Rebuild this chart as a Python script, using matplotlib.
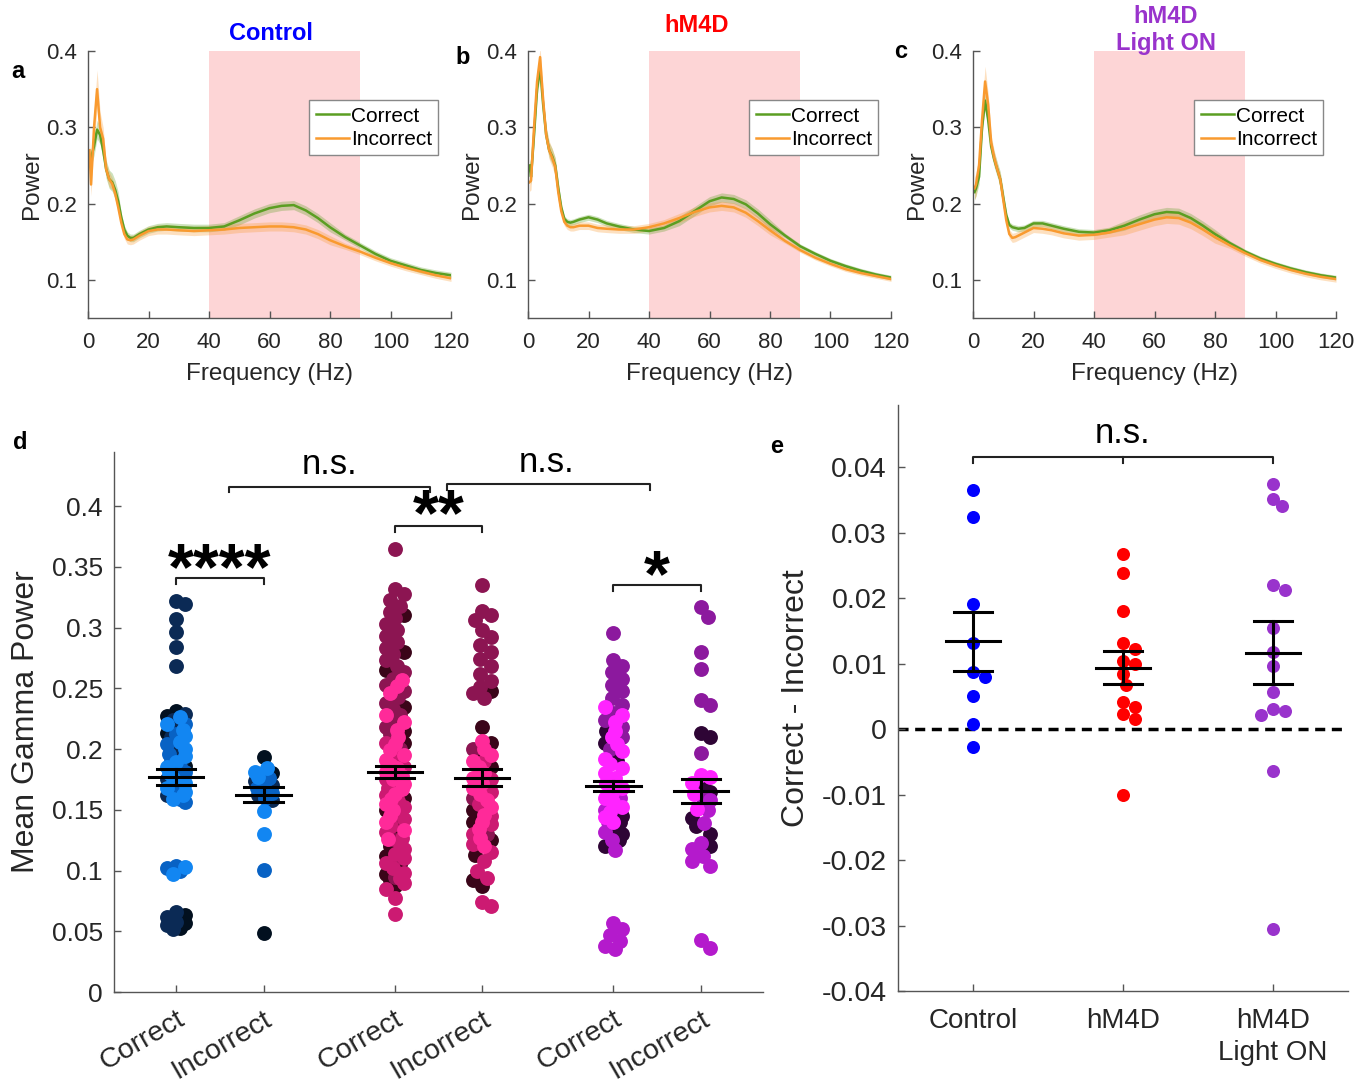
import numpy as np
import matplotlib
matplotlib.use("Agg")
import matplotlib.pyplot as plt

plt.rcParams['font.family'] = ['Liberation Sans', 'DejaVu Sans']
plt.rcParams['axes.unicode_minus'] = False

W, H = 1371, 1085

# ---- power spectra, panels a-c ----
freq = [0.5, 1, 2, 3, 4, 5, 6, 7, 8, 9, 10, 11, 12, 13, 14, 15, 17, 20, 23, 26, 30, 35, 40, 45,
        50, 55, 60, 64, 68, 72, 76, 80, 85, 90, 95, 100, 105, 110, 115, 120]

a_cor = [0.250, 0.260, 0.275, 0.297, 0.290, 0.270, 0.245, 0.232, 0.228, 0.218, 0.203, 0.182, 0.166,
         0.158, 0.155, 0.155, 0.160, 0.166, 0.169, 0.170, 0.169, 0.168, 0.168, 0.170, 0.178, 0.187,
         0.194, 0.197, 0.198, 0.191, 0.181, 0.169, 0.156, 0.145, 0.134, 0.125, 0.119, 0.113, 0.109, 0.106]
a_inc = [0.270, 0.225, 0.300, 0.350, 0.300, 0.285, 0.245, 0.232, 0.226, 0.213, 0.195, 0.175, 0.160,
         0.153, 0.152, 0.153, 0.158, 0.164, 0.166, 0.166, 0.165, 0.164, 0.165, 0.166, 0.168, 0.169,
         0.170, 0.170, 0.169, 0.166, 0.160, 0.152, 0.144, 0.137, 0.129, 0.122, 0.116, 0.111, 0.106, 0.102]
b_cor = [0.250, 0.235, 0.290, 0.350, 0.378, 0.330, 0.290, 0.270, 0.262, 0.250, 0.220, 0.195, 0.180,
         0.176, 0.175, 0.176, 0.179, 0.182, 0.179, 0.174, 0.170, 0.166, 0.164, 0.168, 0.177, 0.190,
         0.203, 0.208, 0.206, 0.199, 0.187, 0.173, 0.158, 0.144, 0.134, 0.125, 0.118, 0.112, 0.107, 0.103]
b_inc = [0.228, 0.230, 0.300, 0.360, 0.392, 0.336, 0.290, 0.270, 0.260, 0.248, 0.215, 0.190, 0.176,
         0.171, 0.169, 0.169, 0.171, 0.171, 0.168, 0.167, 0.166, 0.166, 0.169, 0.174, 0.181, 0.189,
         0.195, 0.197, 0.195, 0.188, 0.177, 0.165, 0.151, 0.139, 0.129, 0.121, 0.114, 0.109, 0.105, 0.101]
c_cor = [0.215, 0.220, 0.235, 0.300, 0.335, 0.310, 0.275, 0.258, 0.245, 0.232, 0.208, 0.185, 0.172,
         0.169, 0.168, 0.167, 0.168, 0.174, 0.174, 0.171, 0.167, 0.163, 0.162, 0.165, 0.171, 0.179,
         0.186, 0.189, 0.188, 0.181, 0.171, 0.160, 0.148, 0.137, 0.128, 0.121, 0.115, 0.110, 0.106, 0.103]
c_inc = [0.220, 0.225, 0.250, 0.310, 0.360, 0.330, 0.280, 0.260, 0.245, 0.232, 0.205, 0.178, 0.160,
         0.155, 0.156, 0.158, 0.162, 0.168, 0.167, 0.165, 0.161, 0.158, 0.159, 0.162, 0.167, 0.173,
         0.179, 0.182, 0.181, 0.175, 0.166, 0.156, 0.145, 0.135, 0.126, 0.119, 0.113, 0.108, 0.104, 0.101]

# SEM band half-widths
a_cor_sem = [0.012] * 11 + [0.005] * 13 + [0.006] * 8 + [0.004] * 8
a_inc_sem = [0.015, 0.015, 0.020, 0.025, 0.020, 0.015, 0.010, 0.010, 0.008, 0.008, 0.008] + [0.006] * 13 + [0.006] * 8 + [0.004] * 8
b_cor_sem = [0.010] * 11 + [0.004] * 13 + [0.006] * 8 + [0.003] * 8
b_inc_sem = [0.012] * 11 + [0.005] * 13 + [0.006] * 8 + [0.003] * 8
c_cor_sem = [0.010] * 11 + [0.004] * 13 + [0.006] * 8 + [0.003] * 8
c_inc_sem = [0.015, 0.015, 0.015, 0.020, 0.020, 0.015, 0.010, 0.010, 0.008, 0.008, 0.008] + [0.006] * 13 + [0.008] * 8 + [0.004] * 8

# ---- mean gamma power, panel d ----
cc_black = [0.231, 0.227, 0.220, 0.213, 0.203, 0.194, 0.186, 0.178, 0.170, 0.063, 0.057, 0.053]
cc_navy = [0.322, 0.3195, 0.307, 0.296, 0.284, 0.2685, 0.229, 0.224, 0.218, 0.210, 0.200, 0.190,
           0.183, 0.175, 0.168, 0.162, 0.066, 0.062, 0.058, 0.055, 0.052]
cc_mid = [0.221, 0.212, 0.204, 0.196, 0.190, 0.185, 0.181, 0.177, 0.173, 0.169, 0.165, 0.162, 0.159,
          0.156, 0.104, 0.102, 0.0995]
cc_bright = [0.226, 0.221, 0.216, 0.211, 0.206, 0.200, 0.194, 0.189, 0.185, 0.180, 0.176, 0.172,
             0.168, 0.165, 0.162, 0.159, 0.103, 0.0975]

ci_black = [0.1935, 0.180, 0.0485]
ci_navy = [0.178, 0.174, 0.170, 0.166, 0.162, 0.158]
ci_mid = [0.176, 0.172, 0.168, 0.164, 0.160, 0.1002]
ci_bright = [0.184, 0.181, 0.177, 0.149, 0.1298]

hc_dark = [0.310, 0.280, 0.265, 0.235, 0.215, 0.205, 0.190, 0.160, 0.150, 0.140, 0.130, 0.120, 0.112,
           0.105, 0.097, 0.092, 0.087]
hc_maroon = [0.365, 0.332, 0.328, 0.323, 0.318, 0.313, 0.308, 0.303, 0.298, 0.293, 0.288, 0.283, 0.278,
             0.273, 0.268, 0.263, 0.258, 0.253, 0.248, 0.243, 0.238, 0.233, 0.228, 0.223, 0.218, 0.212,
             0.200, 0.170, 0.145, 0.125, 0.108, 0.095]
hc_pink = [0.205, 0.195, 0.185, 0.175, 0.168, 0.162, 0.157, 0.152, 0.147, 0.142, 0.137, 0.132, 0.127,
           0.122, 0.118, 0.114, 0.110, 0.106, 0.102, 0.098, 0.094, 0.090, 0.085, 0.077, 0.064]
hc_hot = [0.257, 0.252, 0.246, 0.228, 0.222, 0.216, 0.210, 0.204, 0.199, 0.195, 0.191, 0.187, 0.184,
          0.181, 0.178, 0.175, 0.171, 0.167, 0.163, 0.159, 0.155, 0.150, 0.145, 0.140, 0.133, 0.126]

hi_dark = [0.248, 0.218, 0.205, 0.195, 0.185, 0.150, 0.140, 0.125, 0.113, 0.092, 0.087]
hi_maroon = [0.335, 0.314, 0.310, 0.306, 0.298, 0.292, 0.286, 0.280, 0.274, 0.268, 0.262, 0.256, 0.251,
             0.246, 0.242, 0.200, 0.160, 0.130]
hi_pink = [0.190, 0.175, 0.165, 0.155, 0.145, 0.138, 0.130, 0.122, 0.115, 0.108, 0.100, 0.094, 0.074, 0.071]
hi_hot = [0.207, 0.200, 0.195, 0.190, 0.185, 0.180, 0.176, 0.172, 0.168, 0.163, 0.158, 0.152, 0.146,
          0.140, 0.134, 0.127, 0.120]

lc_dark = [0.215, 0.205, 0.190, 0.150, 0.145, 0.140, 0.135, 0.130, 0.125, 0.120]
lc_purple = [0.2957, 0.273, 0.268, 0.263, 0.258, 0.253, 0.248, 0.242, 0.236, 0.230, 0.224, 0.218, 0.210, 0.200]
lc_medium = [0.160, 0.150, 0.140, 0.132, 0.125, 0.117, 0.0565, 0.052, 0.047, 0.042, 0.038, 0.035]
lc_hot = [0.235, 0.228, 0.222, 0.215, 0.210, 0.204, 0.198, 0.192, 0.188, 0.184, 0.180, 0.176, 0.172,
          0.168, 0.164, 0.160, 0.156, 0.152, 0.148, 0.144, 0.140]

li_dark = [0.213, 0.210, 0.170, 0.165, 0.143, 0.137, 0.130, 0.120]
li_purple = [0.317, 0.309, 0.280, 0.2655, 0.240, 0.236, 0.197, 0.160]
li_medium = [0.158, 0.150, 0.139, 0.123, 0.118, 0.112, 0.108, 0.104, 0.0425, 0.036]
li_hot = [0.179, 0.177, 0.172, 0.163, 0.151]

d_labels = ["Correct", "Incorrect", "Correct", "Incorrect", "Correct", "Incorrect"]
d_mean = [0.177, 0.1625, 0.181, 0.1765, 0.1696, 0.1652]
d_sem = [0.0065, 0.0065, 0.0048, 0.0067, 0.0044, 0.0098]

# ---- correct - incorrect difference, panel e ----
e_groups = ["Control", "hM4D", "hM4D\nLight ON"]
e_control = [0.0365, 0.0324, 0.0191, 0.0132, 0.0087, 0.0080, 0.0051, 0.0008, -0.0028]
e_hm4d = [0.0268, 0.0239, 0.0181, 0.0132, 0.0123, 0.0104, 0.0100, 0.0084, 0.0068, 0.0042, 0.0033,
          0.0023, 0.0015, -0.0100]
e_light = [0.0375, 0.0351, 0.0341, 0.0220, 0.0213, 0.0154, 0.0117, 0.0097, 0.0056, 0.0028, 0.0031,
           0.0022, -0.0064, -0.0305]

GREEN, ORANGE = "#5b9e22", "#f99a2f"
AX_COL, TXT_COL = "#555555", "#262626"


def px(x, y):
    return x / W, 1 - y / H


def style(ax, size):
    for s in ("top", "right"):
        ax.spines[s].set_visible(False)
    for s in ("left", "bottom"):
        ax.spines[s].set_color(AX_COL)
        ax.spines[s].set_linewidth(1.0)
    ax.tick_params(direction="in", length=5, width=1.0, color=AX_COL, labelcolor=TXT_COL,
                   labelsize=size, pad=8)


def spread(vals, sx, sy, diam, maxw):
    # simple bounded beeswarm layout (offsets in data units)
    vals = np.asarray(vals, float)
    cands = [0.0]
    for s in np.linspace(0, maxw, 6)[1:]:
        cands += [s, -s]
    placed, offs = [], np.zeros(len(vals))
    for i in np.argsort(-vals):
        best, bestd = 0.0, -1.0
        for c in cands:
            d = min((np.hypot((c - ox) * sx, (vals[i] - oy) * sy) for ox, oy in placed), default=1e9)
            if d >= diam * 0.9:
                best = c
                break
            if d > bestd:
                best, bestd = c, d
        offs[i] = best
        placed.append((best, vals[i]))
    return offs


fig = plt.figure(figsize=(W / 100, H / 100), dpi=100)

spec = [
    (88, a_cor, a_cor_sem, a_inc, a_inc_sem, "a", (18, 72)),
    (528, b_cor, b_cor_sem, b_inc, b_inc_sem, "b", (463, 58)),
    (973, c_cor, c_cor_sem, c_inc, c_inc_sem, "c", (901, 52)),
]
for left, cor, cs, inc, isem, letter, lpos in spec:
    ax = fig.add_axes([left / W, 1 - 318 / H, 363 / W, 267 / H])
    ax.axvspan(40, 90, color="#fdd5d6", lw=0, zorder=0)
    f = np.array(freq)
    for y, s, col, lab in ((cor, cs, GREEN, "Correct"), (inc, isem, ORANGE, "Incorrect")):
        y, s = np.array(y), np.array(s)
        ax.fill_between(f, y - s, y + s, color=col, alpha=0.3, lw=0, zorder=1)
        ax.plot(f, y, color=col, lw=1.8, label=lab, zorder=2)
    ax.set_xlim(0, 120)
    ax.set_ylim(0.05, 0.4)
    ax.set_xticks(range(0, 121, 20))
    ax.set_yticks([0.1, 0.2, 0.3, 0.4])
    ax.set_yticklabels(["0.1", "0.2", "0.3", "0.4"])
    style(ax, 16)
    ax.tick_params(axis="x", pad=10)
    ax.set_xlabel("Frequency (Hz)", fontsize=17.5, color=TXT_COL, labelpad=7)
    ax.set_ylabel("Power", fontsize=17.5, color=TXT_COL, labelpad=2)
    leg = ax.legend(loc="upper right", bbox_to_anchor=(0.965, 0.815), fontsize=15, frameon=True,
                    fancybox=False, edgecolor="#888888", framealpha=1, handlelength=1.6,
                    handletextpad=0.1, borderpad=0.3, labelspacing=0.22, borderaxespad=0)
    leg.get_frame().set_linewidth(1.0)
    fig.text(*px(*lpos), letter, fontsize=17, fontweight="bold", ha="center", va="center")

fig.text(*px(271, 33), "Control", color="#0000ff", fontsize=17, fontweight="bold", ha="center", va="center")
fig.text(*px(697, 25), "hM4D", color="#ff0000", fontsize=17, fontweight="bold", ha="center", va="center")
fig.text(*px(1166, 30), "hM4D\nLight ON", color="#9933cc", fontsize=17, fontweight="bold", ha="center",
         va="center", linespacing=1.25)

# ---- panel d ----
axd = fig.add_axes([114 / W, 1 - 992 / H, 649 / W, 540 / H])
axd.set_xlim(0.29, 7.71)
axd.set_ylim(0, 0.4445)
d_pos = [1, 2, 3.5, 4.5, 6, 7]
ctrl_cols = ["#02101f", "#0b2a55", "#0862c4", "#1286f2"]
hm_cols = ["#3a0519", "#8c1552", "#cc1a72", "#ff2a99"]
lt_cols = ["#2e0535", "#8c199e", "#b41acc", "#ff24ff"]
d_cols = [
    (ctrl_cols, [cc_black, cc_navy, cc_mid, cc_bright]),
    (ctrl_cols, [ci_black, ci_navy, ci_mid, ci_bright]),
    (hm_cols, [hc_dark, hc_maroon, hc_pink, hc_hot]),
    (hm_cols, [hi_dark, hi_maroon, hi_pink, hi_hot]),
    (lt_cols, [lc_dark, lc_purple, lc_medium, lc_hot]),
    (lt_cols, [li_dark, li_purple, li_medium, li_hot]),
]
for xpos, (cols, groups) in zip(d_pos, d_cols):
    allv = np.concatenate([np.array(g, float) for g in groups])
    offs = spread(allv, 87.5, 1214, 13, 0.1)
    k = 0
    for col, g in zip(cols, groups):
        n = len(g)
        axd.scatter(xpos + offs[k:k + n], g, s=115, color=col, lw=0, zorder=2)
        k += n
for xpos, m, s in zip(d_pos, d_mean, d_sem):
    axd.plot([xpos - 0.31, xpos + 0.31], [m, m], color="k", lw=2.2, zorder=4)
    axd.plot([xpos - 0.22, xpos + 0.22], [m + s, m + s], color="k", lw=2.2, zorder=4)
    axd.plot([xpos - 0.22, xpos + 0.22], [m - s, m - s], color="k", lw=2.2, zorder=4)
    axd.plot([xpos, xpos], [m - s, m + s], color="k", lw=2.2, zorder=4)

axd.set_xticks(d_pos)
axd.set_xticklabels(d_labels, rotation=30, ha="right", va="top", rotation_mode="anchor")
axd.set_yticks(np.arange(0, 0.41, 0.05))
axd.set_yticklabels(["0", "0.05", "0.1", "0.15", "0.2", "0.25", "0.3", "0.35", "0.4"])
style(axd, 19)
axd.tick_params(axis="x", labelsize=20.5, pad=10)
axd.set_ylabel("Mean Gamma Power", fontsize=23, color=TXT_COL, labelpad=8)


def bracket(ax, x0, x1, y, drop, mid=None):
    xs = [x0, x0, x1, x1]
    ys = [y - drop, y, y, y - drop]
    ax.plot(xs, ys, color="#222222", lw=1.5, clip_on=False, zorder=5)
    if mid is not None:
        ax.plot([mid, mid], [y, y - drop], color="#222222", lw=1.5, clip_on=False, zorder=5)


bracket(axd, 1, 2, 0.3407, 0.005)
bracket(axd, 3.5, 4.5, 0.3835, 0.005)
bracket(axd, 6, 7, 0.335, 0.005)
bracket(axd, 1.6, 3.9, 0.4156, 0.004)
bracket(axd, 4.1, 6.42, 0.418, 0.005)
axd.text(1.5, 0.3455, "****", fontsize=48, fontweight="bold", ha="center", va="center")
axd.text(4.0, 0.3900, "**", fontsize=48, fontweight="bold", ha="center", va="center")
axd.text(6.5, 0.3400, "*", fontsize=48, fontweight="bold", ha="center", va="center")
axd.text(2.75, 0.434, "n.s.", fontsize=25, ha="center", va="center")
axd.text(5.24, 0.436, "n.s.", fontsize=25, ha="center", va="center")
fig.text(*px(20, 442), "d", fontsize=17, fontweight="bold", ha="center", va="center")

# ---- panel e ----
axe = fig.add_axes([898 / W, 1 - 991 / H, 450 / W, 586 / H])
axe.set_xlim(0.5, 3.5)
axe.set_ylim(-0.04, 0.0495)
axe.axhline(0, color="k", lw=2.5, ls=(0, (2.9, 1.9)), zorder=1)
e_cols = ["#0000ff", "#ff0000", "#9933cc"]
for i, (vals, col) in enumerate(zip([e_control, e_hm4d, e_light], e_cols)):
    v = np.array(vals)
    offs = spread(v, 150, 6560, 12, 0.1)
    axe.scatter(i + 1 + offs, v, s=88, color=col, lw=0, zorder=2)
    m = v.mean()
    s = v.std(ddof=1) / np.sqrt(len(v))
    x = i + 1
    axe.plot([x - 0.183, x + 0.183], [m, m], color="k", lw=2.2, zorder=4)
    axe.plot([x - 0.127, x + 0.127], [m + s, m + s], color="k", lw=2.2, zorder=4)
    axe.plot([x - 0.127, x + 0.127], [m - s, m - s], color="k", lw=2.2, zorder=4)
    axe.plot([x, x], [m - s, m + s], color="k", lw=2.2, zorder=4)
axe.set_xticks([1, 2, 3])
axe.set_xticklabels(e_groups, linespacing=1.3)
axe.set_yticks(np.arange(-0.04, 0.041, 0.01))
axe.set_yticklabels(["-0.04", "-0.03", "-0.02", "-0.01", "0", "0.01", "0.02", "0.03", "0.04"])
style(axe, 20.5)
axe.tick_params(axis="x", labelsize=20, pad=12)
axe.set_ylabel("Correct - Incorrect", fontsize=23, color=TXT_COL, labelpad=8)
bracket(axe, 1, 3, 0.0415, 0.0008, mid=2)
axe.text(2, 0.0451, "n.s.", fontsize=25, ha="center", va="center")
fig.text(*px(777, 447), "e", fontsize=17, fontweight="bold", ha="center", va="center")

fig.savefig("out.png", dpi=100)
